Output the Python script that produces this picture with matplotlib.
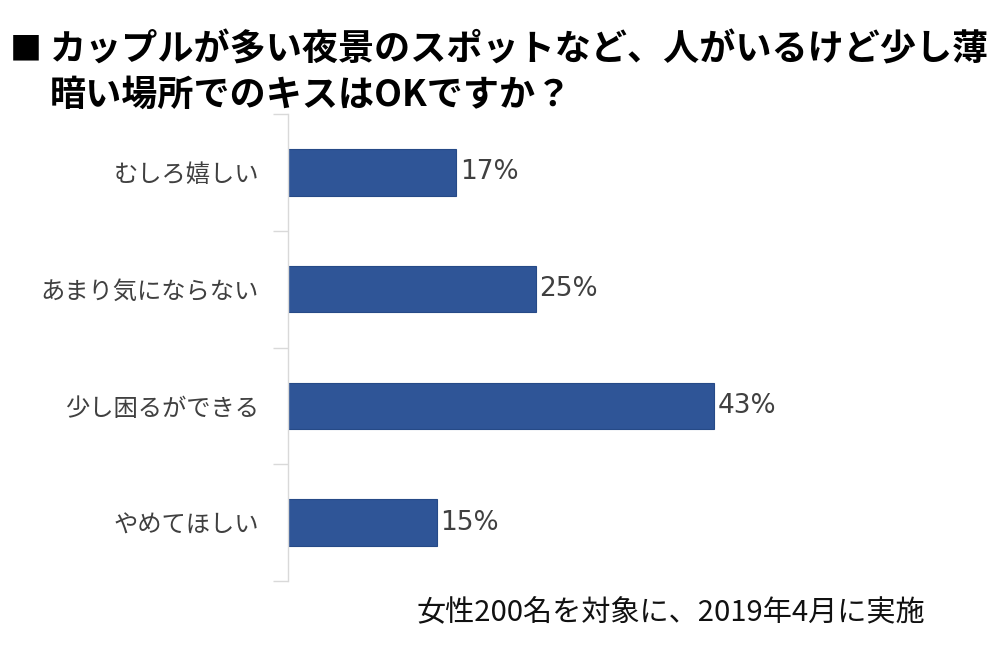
import numpy as np
import matplotlib
matplotlib.use("Agg")
import matplotlib.pyplot as plt

plt.rcParams['font.family'] = ['Noto Sans CJK JP', 'DejaVu Sans']

categories = ["むしろ嬉しい", "あまり気にならない", "少し困るができる", "やめてほしい"]
values = [17, 25, 43, 15]
title_lines = ["カップルが多い夜景のスポットなど、人がいるけど少し薄",
               "暗い場所でのキスはOKですか？"]
note = "女性200名を対象に、2019年4月に実施"

bar_color = "#2F5597"
text_gray = "#404040"
axis_gray = "#D9D9D9"

fig = plt.figure(figsize=(10, 6.61), dpi=100)
ax = fig.add_axes([0.288, 0.121, 0.495, 0.7065])

y = np.arange(len(categories))
ax.barh(y, values, height=0.4, color=bar_color, edgecolor="#264A87", linewidth=0.8)
for yi, v in zip(y, values):
    ax.text(v + 0.4, yi, f"{v}%", va="center", ha="left", fontsize=19,
            color=text_gray, family="DejaVu Sans")

ax.set_xlim(0, 50)
ax.set_ylim(len(categories) - 0.5, -0.5)
ax.set_yticks(y)
ax.set_yticklabels(categories, fontsize=17.5, color=text_gray)
ax.tick_params(axis="y", which="major", length=0, pad=21)
ax.set_yticks(np.arange(-0.5, len(categories), 1.0), minor=True)
ax.tick_params(axis="y", which="minor", length=11, color=axis_gray, width=1)
ax.set_xticks([])
for s in ["top", "right", "bottom"]:
    ax.spines[s].set_visible(False)
ax.spines["left"].set_color(axis_gray)
ax.spines["left"].set_linewidth(1)

fig.text(0.010, 1 - 50 / 661, "■", fontsize=23, fontweight="bold", va="center", ha="left")
fig.text(0.050, 1 - 50 / 661, title_lines[0], fontsize=26, fontweight="bold",
         va="center", ha="left")
fig.text(0.050, 1 - 95 / 661, title_lines[1], fontsize=26, fontweight="bold",
         va="center", ha="left")

fig.text(0.925, 1 - 613 / 661, note, fontsize=21, ha="right", va="center", color="#111111")

fig.savefig("out.png", dpi=100)
